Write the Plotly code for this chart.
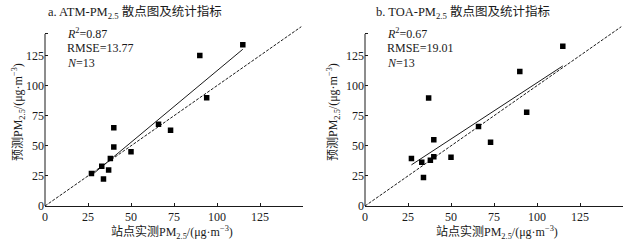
import numpy as np
import plotly.graph_objects as go

# ---------------- data ----------------
station = [27, 33, 34, 37, 38, 40, 40, 50, 66, 73, 90, 94, 115]
atm_pred = [27, 33, 22.5, 30, 39.5, 65, 49, 45, 68, 63, 125, 90, 134]
toa_pred = [39.5, 36.4, 23.6, 89.7, 38, 55, 41, 40.5, 66, 53, 111.7, 78, 132.7]
ref_line = [0, 149]
tick_vals = [0, 25, 50, 75, 100, 125]
panel_titles = ["a. ATM-PM<sub>2.5</sub> 散点图及统计指标", "b. TOA-PM<sub>2.5</sub> 散点图及统计指标"]
x_title = "站点实测PM<sub>2.5</sub>/(μg·m<sup>−3</sup>)"
y_title = "预测PM<sub>2.5</sub>/(μg·m<sup>−3</sup>)"
stats_r2 = ["0.87", "0.67"]
stats_rmse = ["13.77", "19.01"]
stats_n = ["13", "13"]

W, H = 634, 251
FONT = "Liberation Serif, Times New Roman, Noto Sans CJK SC, serif"
INK = "#1a1a1a"


def px(x):
    return x / W


def py(y):
    return 1 - y / H


xdoms = [[px(45), px(303)], [px(365), px(623)]]
ydom = [py(206), py(25.5)]
YMAX = 150
YTOP = 143
XMAX = 150

fig = go.Figure()
shapes = []
annotations = []
for i, pred in enumerate([atm_pred, toa_pred]):
    xa = "x" if i == 0 else "x2"
    ya = "y" if i == 0 else "y2"
    # 1:1 reference line
    fig.add_trace(go.Scatter(x=ref_line, y=ref_line, mode="lines",
                             line=dict(color=INK, width=1, dash="3px,1.5px"),
                             xaxis=xa, yaxis=ya, showlegend=False, hoverinfo="skip"))
    # regression line
    k, b = np.polyfit(station, pred, 1)
    xs = np.array([min(station), max(station)])
    fig.add_trace(go.Scatter(x=xs, y=k * xs + b, mode="lines",
                             line=dict(color=INK, width=1),
                             xaxis=xa, yaxis=ya, showlegend=False))
    # points
    fig.add_trace(go.Scatter(x=station, y=pred, mode="markers",
                             marker=dict(symbol="square", size=5.5, color="black"),
                             xaxis=xa, yaxis=ya, showlegend=False))

    xkey = "xaxis" if i == 0 else "xaxis2"
    ykey = "yaxis" if i == 0 else "yaxis2"
    fig.update_layout({
        xkey: dict(domain=xdoms[i], range=[0, XMAX], anchor=ya, automargin=False,
                   showgrid=False, zeroline=False, showline=True, linecolor=INK, linewidth=1,
                   ticks="inside", ticklen=3, tickcolor=INK, tickwidth=1,
                   tickvals=tick_vals + [XMAX], ticktext=[str(v) for v in tick_vals] + [""],
                   tickfont=dict(family=FONT, size=12, color=INK)),
        ykey: dict(domain=ydom, range=[0, YMAX], anchor=xa, automargin=False,
                   showgrid=False, zeroline=False, showline=False,
                   ticks="inside", ticklen=3, tickcolor=INK, tickwidth=1,
                   tickvals=tick_vals + [YTOP], ticktext=[str(v) for v in tick_vals] + [""],
                   tickfont=dict(family=FONT, size=12, color=INK)),
    })
    # y axis line ending below the top of the range
    ytop_paper = ydom[0] + (ydom[1] - ydom[0]) * YTOP / YMAX
    shapes.append(dict(type="line", xref="paper", yref="paper",
                       x0=xdoms[i][0], x1=xdoms[i][0], y0=ydom[0], y1=ytop_paper,
                       line=dict(color=INK, width=1)))
    # panel title
    annotations.append(dict(text=panel_titles[i], xref="paper", yref="paper",
                            x=px([135, 463][i]), y=py(13), xanchor="center", yanchor="middle",
                            showarrow=False, font=dict(family=FONT, size=12.5, color=INK)))
    # axis titles
    annotations.append(dict(text=x_title, xref="paper", yref="paper",
                            x=px([172, 497][i]), y=py(232), xanchor="center", yanchor="middle",
                            showarrow=False, font=dict(family=FONT, size=12, color=INK)))
    annotations.append(dict(text=y_title, xref="paper", yref="paper", textangle=-90,
                            x=px([18, 333][i]), y=py(112), xanchor="center", yanchor="middle",
                            showarrow=False, font=dict(family=FONT, size=12, color=INK)))
    # stats
    sx = px([65, 385][i])
    lines = [f"<i>R</i><sup>2</sup>={stats_r2[i]}", f"RMSE={stats_rmse[i]}", f"<i>N</i>={stats_n[i]}"]
    for j, t in enumerate(lines):
        annotations.append(dict(text=t, xref="paper", yref="paper",
                                x=sx, y=py(33 + 15 * j), xanchor="left", yanchor="middle",
                                showarrow=False, font=dict(family=FONT, size=12, color=INK)))

fig.update_layout(width=W, height=H, margin=dict(l=0, r=0, t=0, b=0),
                  paper_bgcolor="white", plot_bgcolor="white",
                  shapes=shapes, annotations=annotations, showlegend=False)
fig.write_html("out.html", config={"displayModeBar": False},
               post_script="document.body.style.margin='0';document.body.style.overflow='hidden';")
